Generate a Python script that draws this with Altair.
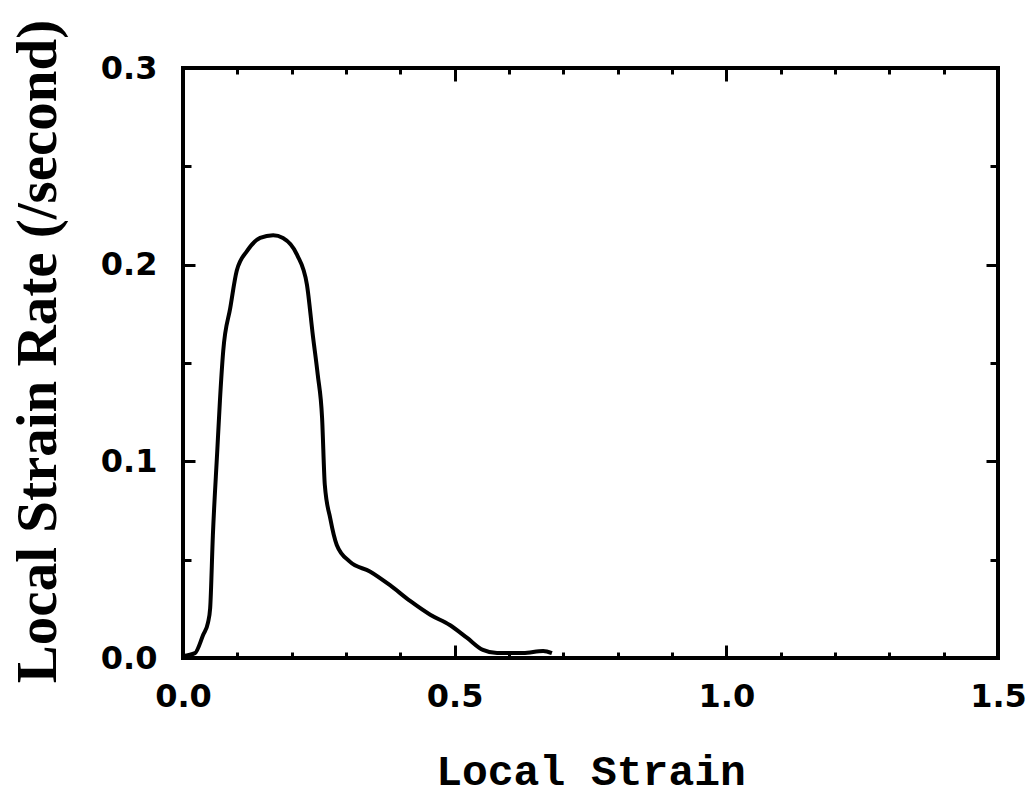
import altair as alt
import pandas as pd

# Curve
strain = [0.0, 0.022, 0.037, 0.046, 0.050, 0.055, 0.063, 0.068, 0.074, 0.087, 0.099,
          0.118, 0.142, 0.166, 0.184, 0.210, 0.228, 0.239, 0.248, 0.256, 0.261, 0.271,
          0.283, 0.307, 0.344, 0.381, 0.418, 0.455, 0.491, 0.523, 0.552, 0.578, 0.626,
          0.663, 0.679]
rate = [0.001, 0.0025, 0.0117, 0.018, 0.0254, 0.0625, 0.105, 0.131, 0.156, 0.178, 0.197,
        0.207, 0.2136, 0.215, 0.2136, 0.205, 0.190, 0.164, 0.144, 0.122, 0.088, 0.071,
        0.0575, 0.049, 0.044, 0.037, 0.029, 0.022, 0.0168, 0.0102, 0.0041, 0.0025, 0.0025,
        0.0036, 0.0025]

x_major = [0.0, 0.5, 1.0, 1.5]
y_major = [0.0, 0.1, 0.2, 0.3]
x_minor = [0.0, 0.1, 0.2, 0.3, 0.4, 0.5, 0.6, 0.7, 0.8, 0.9, 1.0, 1.1, 1.2, 1.3, 1.4, 1.5]
y_minor = [0.0, 0.05, 0.1, 0.15, 0.2, 0.25, 0.3]

df = pd.DataFrame({"strain": strain, "rate": rate})

W, H = 815, 590
xs = alt.Scale(domain=[0, 1.5], nice=False)
ys = alt.Scale(domain=[0, 0.3], nice=False)

xtick = {"condition": {"test": "abs(datum.value*2 - round(datum.value*2)) < 0.01", "value": 13}, "value": 6}
ytick = {"condition": {"test": "abs(datum.value*10 - round(datum.value*10)) < 0.01", "value": 12}, "value": 8}

label_font = "DejaVu Sans"

main = alt.Chart(df).mark_line(color="black", strokeWidth=4, interpolate="monotone").encode(
    x=alt.X("strain:Q", scale=xs, axis=alt.Axis(
        orient="bottom", values=x_major, format=".1f", ticks=False, domain=False, grid=False,
        labelFont=label_font, labelFontWeight="bold", labelFontSize=32, labelColor="black",
        labelPadding=23, labelBaseline="top", labelFlush=False,
        title="Local Strain", titleFont="Liberation Mono", titleFontWeight="bold",
        titleFontSize=43, titleColor="black", titleBaseline="alphabetic", titleY=126)),
    y=alt.Y("rate:Q", scale=ys, axis=alt.Axis(
        orient="left", values=y_major, format=".1f", ticks=False, domain=False, grid=False,
        labelFont=label_font, labelFontWeight="bold", labelFontSize=32, labelColor="black",
        labelPadding=26, labelFlush=False,
        title="Local Strain Rate (/second)", titleFont="Liberation Serif", titleFontWeight="bold",
        titleFontSize=57, titleColor="black", titleBaseline="alphabetic", titleAlign="center",
        titleX=-128, titleY=283)),
)

def tick_axis(orient, values, size, offset):
    return alt.Axis(orient=orient, values=values, labels=False, domain=False, grid=False,
                    ticks=True, tickSize=size, tickWidth=3, tickColor="black",
                    offset=offset, title="")

ticks_a = alt.Chart(df).mark_line(strokeOpacity=0).encode(
    x=alt.X("strain:Q", scale=xs, axis=tick_axis("top", x_minor, xtick, -H)),
    y=alt.Y("rate:Q", scale=ys, axis=tick_axis("right", y_minor, ytick, -W)),
)
ticks_b = alt.Chart(df).mark_line(strokeOpacity=0).encode(
    x=alt.X("strain:Q", scale=xs, axis=tick_axis("bottom", x_minor, xtick, -H)),
    y=alt.Y("rate:Q", scale=ys, axis=tick_axis("left", y_minor, ytick, -W)),
)

chart = alt.layer(main, ticks_a, ticks_b).resolve_axis(x="independent", y="independent").properties(
    width=W, height=H,
    autosize=alt.AutoSizeParams(type="none"),
    padding={"left": 183, "top": 68, "right": 34, "bottom": 138},
    background="white",
).configure_view(stroke="black", strokeWidth=4)

chart.save("out.html", embed_options={"renderer": "svg", "actions": False})
